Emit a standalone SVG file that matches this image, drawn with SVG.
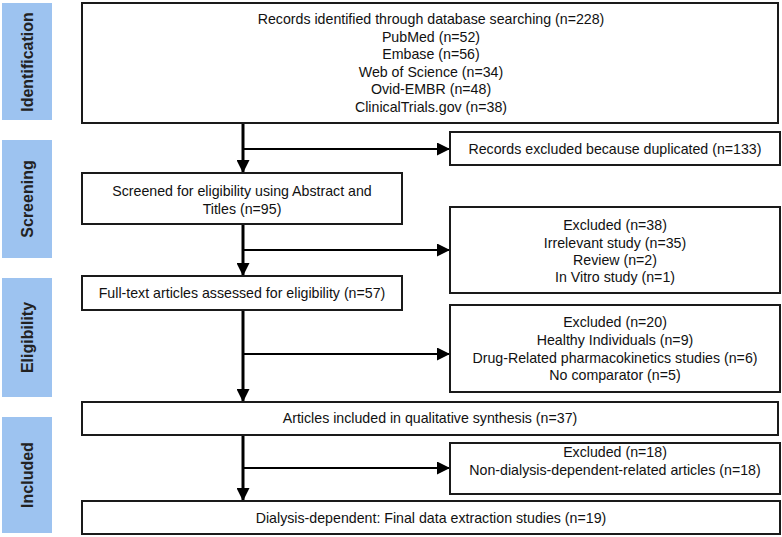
<svg xmlns="http://www.w3.org/2000/svg" width="782" height="537" viewBox="0 0 782 537">
<style>
.box{fill:#fff;stroke:#1a1a1a;stroke-width:2}
.stage{fill:#9dc3f0}
.lab{font-family:"Liberation Sans",Arial,sans-serif;font-weight:bold;font-size:16px;fill:#222;text-anchor:middle}
.t{font-family:"Liberation Sans",Arial,sans-serif;font-size:14.2px;fill:#111;text-anchor:middle}
.v{stroke:#000;stroke-width:3;fill:none}
.h{stroke:#000;stroke-width:2.2;fill:none}
</style>
<defs>
<marker id="ah" markerUnits="userSpaceOnUse" markerWidth="13" markerHeight="13" viewBox="0 0 13 13" refX="13" refY="6.5" orient="auto">
<path d="M0,0 L13,6.5 L0,13 Z" fill="#000"/>
</marker>
</defs>
<g id="stages">
<g id="stage-identification"><rect class="stage" x="2" y="3" width="50" height="117"/><text class="lab" transform="translate(33,62) rotate(-90)">Identification</text></g>
<g id="stage-screening"><rect class="stage" x="2" y="140" width="50" height="118"/><text class="lab" transform="translate(33,199) rotate(-90)">Screening</text></g>
<g id="stage-eligibility"><rect class="stage" x="2" y="278" width="50" height="119"/><text class="lab" transform="translate(33,337.5) rotate(-90)">Eligibility</text></g>
<g id="stage-included"><rect class="stage" x="2" y="417" width="50" height="116"/><text class="lab" transform="translate(33,475) rotate(-90)">Included</text></g>
</g>
<g id="connectors">
<line class="v" x1="243" y1="123" x2="243" y2="173" marker-end="url(#ah)"/>
<line class="h" x1="243" y1="149" x2="450" y2="149" marker-end="url(#ah)"/>
<line class="v" x1="243" y1="224" x2="243" y2="276" marker-end="url(#ah)"/>
<line class="h" x1="243" y1="250" x2="450" y2="250" marker-end="url(#ah)"/>
<line class="v" x1="243" y1="310" x2="243" y2="402" marker-end="url(#ah)"/>
<line class="h" x1="243" y1="354" x2="450" y2="354" marker-end="url(#ah)"/>
<line class="v" x1="243" y1="435" x2="243" y2="501" marker-end="url(#ah)"/>
<line class="h" x1="243" y1="468" x2="450" y2="468" marker-end="url(#ah)"/>
</g>
<g id="n-identified">
<rect class="box" x="82" y="3" width="696" height="120"/>
<text class="t" x="431" y="24">Records identified through database searching (n=228)</text>
<text class="t" x="431" y="41.5">PubMed (n=52)</text>
<text class="t" x="431" y="59">Embase (n=56)</text>
<text class="t" x="431" y="76.5">Web of Science (n=34)</text>
<text class="t" x="431" y="94">Ovid-EMBR (n=48)</text>
<text class="t" x="431" y="111.5">ClinicalTrials.gov (n=38)</text>
</g>
<g id="n-duplicates">
<rect class="box" x="450" y="132" width="330" height="33"/>
<text class="t" x="615" y="154">Records excluded because duplicated (n=133)</text>
</g>
<g id="n-screened">
<rect class="box" x="82" y="173" width="320" height="51"/>
<text class="t" x="242" y="196">Screened for eligibility using Abstract and</text>
<text class="t" x="242" y="214">Titles (n=95)</text>
</g>
<g id="n-excl38">
<rect class="box" x="450" y="207" width="330" height="86"/>
<text class="t" x="615" y="230">Excluded (n=38)</text>
<text class="t" x="615" y="247.5">Irrelevant study (n=35)</text>
<text class="t" x="615" y="264.5">Review (n=2)</text>
<text class="t" x="615" y="282">In Vitro study (n=1)</text>
</g>
<g id="n-fulltext">
<rect class="box" x="82" y="276" width="320" height="34"/>
<text class="t" x="242" y="298">Full-text articles assessed for eligibility (n=57)</text>
</g>
<g id="n-excl20">
<rect class="box" x="450" y="305" width="330" height="87"/>
<text class="t" x="615" y="327">Excluded (n=20)</text>
<text class="t" x="615" y="345">Healthy Individuals (n=9)</text>
<text class="t" x="615" y="363">Drug-Related  pharmacokinetics studies (n=6)</text>
<text class="t" x="615" y="380">No comparator (n=5)</text>
</g>
<g id="n-qualitative">
<rect class="box" x="82" y="402" width="696" height="33"/>
<text class="t" x="430" y="423">Articles included in qualitative synthesis (n=37)</text>
</g>
<g id="n-excl18">
<rect class="box" x="450" y="443" width="330" height="51"/>
<text class="t" x="615" y="457">Excluded (n=18)</text>
<text class="t" x="615" y="475">Non-dialysis-dependent-related articles (n=18)</text>
</g>
<g id="n-final">
<rect class="box" x="82" y="501" width="698" height="33"/>
<text class="t" x="431" y="523">Dialysis-dependent: Final data extraction studies (n=19)</text>
</g>
</svg>
